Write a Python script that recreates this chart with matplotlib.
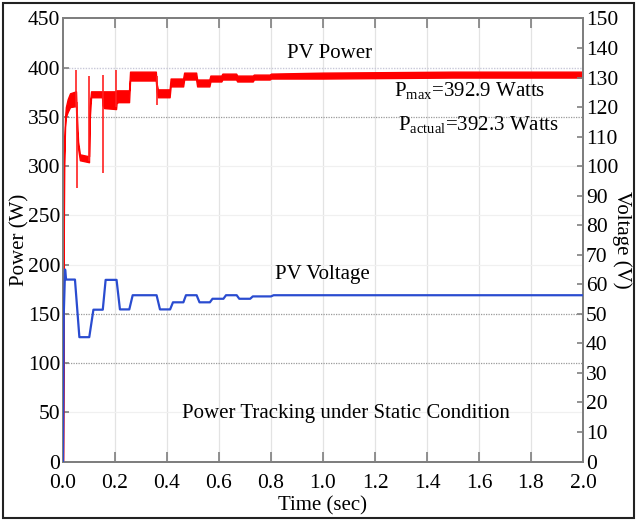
import matplotlib
matplotlib.use("Agg")
import matplotlib.pyplot as plt
from matplotlib.patches import Rectangle

plt.rcParams["font.family"] = ["Liberation Serif", "DejaVu Serif"]
plt.rcParams["mathtext.default"] = "regular"

# PV power: band envelope (low / high) over time
t_pow = [0.000, 0.002, 0.004, 0.008, 0.011, 0.018, 0.027, 0.050, 0.052, 0.058, 0.065, 0.100,
         0.102, 0.108, 0.150, 0.152, 0.158, 0.204, 0.206, 0.212, 0.254, 0.258, 0.357, 0.360,
         0.365, 0.410, 0.414, 0.462, 0.466, 0.512, 0.516, 0.563, 0.567, 0.609, 0.613, 0.666,
         0.670, 0.730, 0.734, 0.795, 0.80, 1.0, 1.5, 2.0]
p_lo = [0, 150, 300, 340, 350, 355, 360, 361, 340, 318, 306, 304,
        345, 370, 370, 362, 359, 358, 364, 365, 365, 387, 387, 376,
        370, 370, 381, 381, 388, 388, 381, 381, 386, 386, 388, 388,
        386, 386, 388, 388, 389, 389, 390, 390]
p_hi = [0, 160, 312, 350, 360, 368, 374, 376, 360, 325, 312, 310,
        360, 376, 376, 376, 376, 376, 377, 377, 377, 396, 396, 384,
        378, 378, 389, 389, 395, 395, 388, 388, 392, 392, 394, 394,
        392, 392, 393, 393, 394, 395, 396, 396]

# short transients in the power trace
spike_t = [0.050, 0.053, 0.101, 0.152, 0.205, 0.360]
spike_lo = [360, 278, 305, 293, 360, 362]
spike_hi = [398, 365, 392, 393, 398, 392]

# PV voltage
t_volt = [0.000, 0.003, 0.008, 0.012, 0.046, 0.063, 0.101, 0.117, 0.153, 0.164, 0.206,
          0.219, 0.255, 0.268, 0.360, 0.373, 0.412, 0.423, 0.463, 0.473, 0.514, 0.525,
          0.565, 0.575, 0.617, 0.627, 0.668, 0.678, 0.720, 0.730, 0.800, 0.810, 1.0, 2.0]
v_pv = [0.0, 50.0, 65.0, 61.6, 61.6, 42.1, 42.1, 51.4, 51.4, 61.5, 61.5,
        51.5, 51.5, 56.3, 56.3, 51.5, 51.5, 53.9, 53.9, 56.3, 56.3, 53.9,
        53.9, 55.1, 55.1, 56.3, 56.3, 55.1, 55.1, 55.9, 55.9, 56.3, 56.3, 56.3]

x_ticks = [0.0, 0.2, 0.4, 0.6, 0.8, 1.0, 1.2, 1.4, 1.6, 1.8, 2.0]
p_ticks = list(range(0, 451, 50))
v_ticks = list(range(0, 151, 10))

fig = plt.figure(figsize=(6.37, 5.21), dpi=100)
ax = fig.add_axes([0.0989, 0.1142, 0.8163, 0.8503])
ax2 = ax.twinx()

spine_c = "#7f7f7f"
for a in (ax, ax2):
    for s in a.spines.values():
        s.set_color(spine_c)
        s.set_linewidth(1.4)

# grid
for x in x_ticks[1:-1]:
    ax.axvline(x, color="#e3e3e3", lw=0.9, zorder=0)
for y in [50, 200, 250, 300]:
    ax.axhline(y, color="#f0f0f0", lw=0.9, zorder=0)
for y in [100, 150, 350]:
    ax.axhline(y, color="#9a9a9a", lw=0.9, ls=(0, (1, 1)), zorder=0)
ax.axhline(400, color="#c8c8d8", lw=1.0, ls=(0, (1, 1)), zorder=0)

ax.fill_between(t_pow, p_lo, p_hi, color="#ff0000", lw=1.0, edgecolor="#ff0000", zorder=3)
ax.vlines(spike_t, spike_lo, spike_hi, color="#ff2020", lw=1.2, zorder=3)

ax2.plot(t_volt, v_pv, color="#2a4cd0", lw=1.6, zorder=3)

ax.set_xlim(0, 2.0)
ax.set_ylim(0, 450)
ax2.set_ylim(0, 150)

ax.set_xticks(x_ticks)
ax.set_xticklabels([f"{x:.1f}" for x in x_ticks])
ax.set_yticks(p_ticks)
ax2.set_yticks(v_ticks)

ax.tick_params(axis="x", direction="in", length=7, width=1.2, color=spine_c,
               labelsize=15.5, top=True, pad=9)
ax.tick_params(axis="y", direction="in", length=4, width=1.2, color=spine_c,
               labelsize=15.5, pad=2)
ax2.tick_params(axis="y", direction="in", length=4, width=1.2, color=spine_c,
                labelsize=15.5, pad=2)

ax.set_xlabel("Time (sec)", fontsize=15, labelpad=2)
ax.set_ylabel("Power (W)", fontsize=15, labelpad=-1)
ax2.set_ylabel("Voltage (V)", fontsize=15, rotation=270, labelpad=10)

ax.text(1.027, 414, "PV Power", fontsize=15, ha="center", va="center")
ax.text(1.275, 377, "P$_{max}$=392.9 Watts", fontsize=15, ha="left", va="center")
ax.text(1.29, 342, "P$_{actual}$=392.3 Watts", fontsize=15, ha="left", va="center")
ax.text(0.996, 190, "PV Voltage", fontsize=15, ha="center", va="center")
ax.text(1.087, 49, "Power Tracking under Static Condition", fontsize=15,
        ha="center", va="center")

fig.patches.append(Rectangle((0.005, 0.006), 0.99, 0.988, transform=fig.transFigure,
                             fill=False, edgecolor="#222222", lw=1.5))

fig.savefig("out.png", dpi=100)
